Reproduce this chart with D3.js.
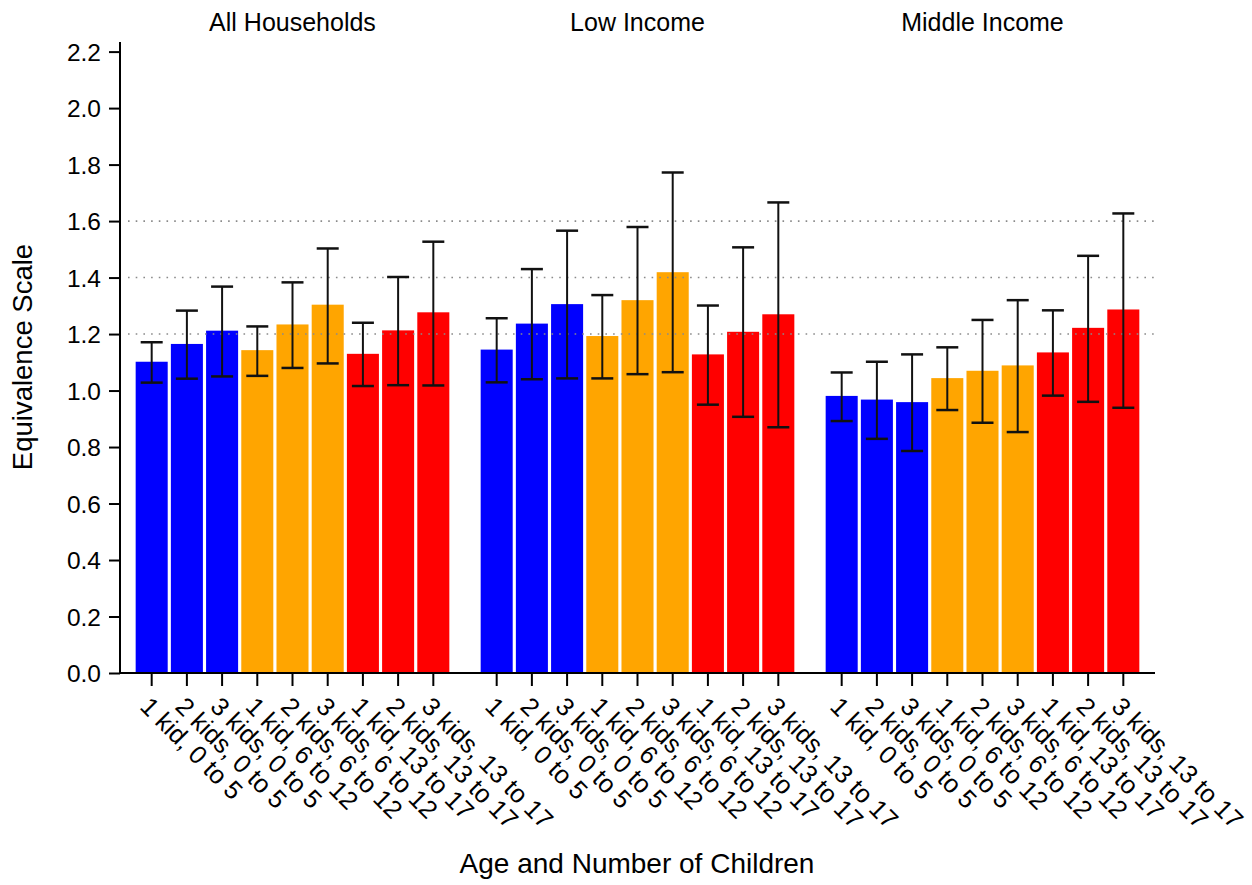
<!DOCTYPE html>
<html>
<head>
<meta charset="utf-8">
<script src="https://cdn.jsdelivr.net/npm/d3@7/dist/d3.min.js"></script>
<style>
  html, body { margin: 0; padding: 0; background: #fff; }
  svg { display: block; font-family: "Liberation Sans", Arial, sans-serif; }
</style>
</head>
<body>
<svg id="chart" width="1252" height="885"></svg>
<script>
// Household groups shown as side-by-side panels
const panels = ["All Households", "Low Income", "Middle Income"];

// Child configurations along the x axis of each panel
const categories = [
  "1 kid, 0 to 5", "2 kids, 0 to 5", "3 kids, 0 to 5",
  "1 kid, 6 to 12", "2 kids, 6 to 12", "3 kids, 6 to 12",
  "1 kid, 13 to 17", "2 kids, 13 to 17", "3 kids, 13 to 17"
];
const ageGroup = ["0-5", "0-5", "0-5", "6-12", "6-12", "6-12", "13-17", "13-17", "13-17"];

// Equivalence scale estimates with confidence bounds
const allMean = [1.102, 1.165, 1.212, 1.143, 1.234, 1.304, 1.130, 1.213, 1.277];
const allLow  = [1.028, 1.042, 1.050, 1.052, 1.080, 1.096, 1.016, 1.019, 1.018];
const allHigh = [1.171, 1.283, 1.368, 1.227, 1.383, 1.503, 1.240, 1.402, 1.527];

const lowMean = [1.145, 1.237, 1.306, 1.193, 1.320, 1.419, 1.128, 1.208, 1.270];
const lowLow  = [1.029, 1.040, 1.043, 1.043, 1.058, 1.065, 0.950, 0.907, 0.870];
const lowHigh = [1.256, 1.430, 1.566, 1.338, 1.579, 1.772, 1.301, 1.507, 1.666];

const midMean = [0.981, 0.968, 0.959, 1.044, 1.070, 1.089, 1.135, 1.222, 1.287];
const midLow  = [0.892, 0.829, 0.786, 0.931, 0.886, 0.853, 0.982, 0.960, 0.939];
const midHigh = [1.064, 1.102, 1.128, 1.153, 1.250, 1.320, 1.284, 1.477, 1.627];

const yTicks = [0.0, 0.2, 0.4, 0.6, 0.8, 1.0, 1.2, 1.4, 1.6, 1.8, 2.0, 2.2];
const gridValues = [1.2, 1.4, 1.6];

const series = [
  { mean: allMean, low: allLow, high: allHigh },
  { mean: lowMean, low: lowLow, high: lowHigh },
  { mean: midMean, low: midLow, high: midHigh }
];

const ageColor = d3.scaleOrdinal()
  .domain(["0-5", "6-12", "13-17"])
  .range(["#0000ff", "#ffa500", "#ff0000"]);

const svg = d3.select("#chart");
const plotLeft = 120, plotRight = 1155, plotTop = 42, plotBottom = 673;
const font = "Liberation Sans, Arial, sans-serif";

const y = d3.scaleLinear().domain([0, 2.234]).range([plotBottom, plotTop]);
const xPanel = d3.scaleBand().domain(panels).range([plotLeft, plotRight]);
const xCat = d3.scaleBand().domain(categories)
  .range([0, xPanel.bandwidth()])
  .paddingInner(0.09).paddingOuter(0.445);

svg.append("rect").attr("width", 1252).attr("height", 885).attr("fill", "#fff");

// Bars
panels.forEach((p, pi) => {
  const s = series[pi];
  const g = svg.append("g").attr("transform", `translate(${xPanel(p)},0)`);
  g.selectAll("rect.bar").data(categories).join("rect")
    .attr("class", "bar")
    .attr("x", c => xCat(c))
    .attr("width", xCat.bandwidth())
    .attr("y", (c, i) => y(s.mean[i]))
    .attr("height", (c, i) => y(0) - y(s.mean[i]))
    .attr("fill", (c, i) => ageColor(ageGroup[i]));
});

// Dotted reference lines sit above the bars
svg.append("g").selectAll("line").data(gridValues).join("line")
  .attr("x1", plotLeft + 8).attr("x2", plotRight)
  .attr("y1", d => y(d)).attr("y2", d => y(d))
  .attr("stroke", "#8a8a8a").attr("stroke-width", 1.6)
  .attr("stroke-dasharray", "1.6,6.1");

// Error bars
panels.forEach((p, pi) => {
  const s = series[pi];
  const g = svg.append("g").attr("transform", `translate(${xPanel(p)},0)`);
  const cx = c => xCat(c) + xCat.bandwidth() / 2;
  const capHalf = 11;
  g.selectAll("line.stem").data(categories).join("line")
    .attr("class", "stem")
    .attr("x1", cx).attr("x2", cx)
    .attr("y1", (c, i) => y(s.low[i])).attr("y2", (c, i) => y(s.high[i]))
    .attr("stroke", "#111").attr("stroke-width", 2);
  ["low", "high"].forEach(k => {
    g.selectAll("line.cap-" + k).data(categories).join("line")
      .attr("class", "cap-" + k)
      .attr("x1", c => cx(c) - capHalf).attr("x2", c => cx(c) + capHalf)
      .attr("y1", (c, i) => y(s[k][i])).attr("y2", (c, i) => y(s[k][i]))
      .attr("stroke", "#111").attr("stroke-width", 2.5);
  });
});

// Y axis
const yAxis = svg.append("g").attr("transform", `translate(${plotLeft},0)`)
  .call(d3.axisLeft(y).tickValues(yTicks).tickFormat(d3.format(".1f")).tickSize(11).tickSizeOuter(0));
yAxis.select(".domain").attr("d", `M0,${plotTop}V${plotBottom}`).attr("stroke", "#000").attr("stroke-width", 2);
yAxis.selectAll(".tick line").attr("stroke", "#000").attr("stroke-width", 2);
yAxis.selectAll(".tick text")
  .attr("x", -19).attr("dy", "0.35em")
  .attr("font-size", 24.5).attr("fill", "#000")
  .attr("font-family", font);

// X axes, one per panel
panels.forEach((p, pi) => {
  const g = svg.append("g").attr("transform", `translate(${xPanel(p)},${plotBottom})`);
  g.call(d3.axisBottom(xCat).tickSize(13).tickSizeOuter(0));
  g.select(".domain").attr("d", `M0,0H${xPanel.bandwidth()}`).attr("stroke", "#000").attr("stroke-width", 2);
  g.selectAll(".tick line").attr("stroke", "#000").attr("stroke-width", 2);
  g.selectAll(".tick text")
    .attr("x", 0).attr("y", 0).attr("dy", 0)
    .attr("text-anchor", "start")
    .attr("transform", "translate(-13,35) rotate(45)")
    .attr("font-size", 25.5).attr("fill", "#000")
    .attr("font-family", font);

  svg.append("text")
    .attr("x", xPanel(p) + xPanel.bandwidth() / 2).attr("y", 30.5)
    .attr("text-anchor", "middle").attr("font-size", 25).attr("fill", "#000")
    .attr("font-family", font)
    .text(p);
});

// Axis titles
svg.append("text")
  .attr("x", 637).attr("y", 873)
  .attr("text-anchor", "middle").attr("font-size", 28).attr("fill", "#000")
  .attr("font-family", font)
  .text("Age and Number of Children");

svg.append("text")
  .attr("transform", `translate(32,357) rotate(-90)`)
  .attr("text-anchor", "middle").attr("font-size", 27.5).attr("fill", "#000")
  .attr("font-family", font)
  .text("Equivalence Scale");
</script>
</body>
</html>
